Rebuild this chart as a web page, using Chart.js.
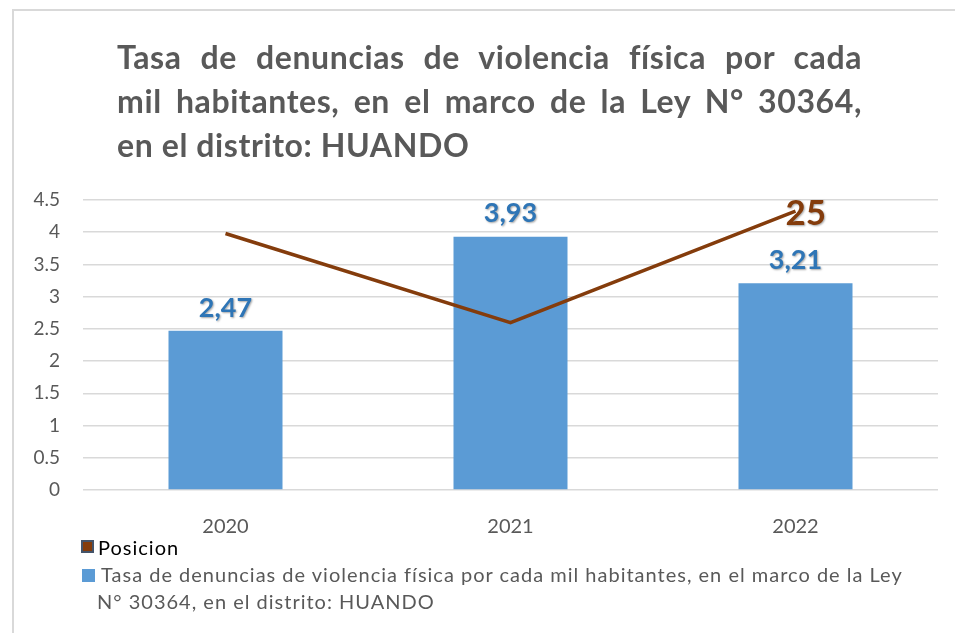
<!DOCTYPE html>
<html>
<head>
<meta charset="utf-8">
<script src="https://cdn.jsdelivr.net/npm/chart.js@4.4.1/dist/chart.umd.min.js"></script>
<style>
  body { margin: 0; background: #fff; font-family: Lato, 'Open Sans', sans-serif; }
  #wrap { position: relative; width: 955px; height: 633px; overflow: hidden; }
  #frame { position: absolute; left: 12px; top: 9px; right: -5px; bottom: -5px;
           border-left: 2px solid #d9d9d9; border-top: 2px solid #d9d9d9; }
  #chart { position: absolute; left: 0; top: 0; }
  #title { position: absolute; left: 117px; top: 35px; width: 745px;
           font-weight: bold; font-size: 32px; letter-spacing: 0.6px; color: #595959; line-height: 44px; }
  #title div { white-space: nowrap; }
  #title .j { text-align: justify; text-align-last: justify; }
  #legend { position: absolute; left: 80px; top: 534px; font-size: 20px; letter-spacing: 1px; color: #595959; }
  #legend .row1 { position: relative; color: #000; line-height: 27px; padding-left: 18px; }
  #legend .row2 { position: relative; line-height: 27px; padding-left: 17px; text-indent: 4px; white-space: nowrap; }
  .mk { position: absolute; width: 13px; height: 13px; box-sizing: border-box; }
</style>
</head>
<body>
<div id="wrap">
  <div id="frame"></div>
  <canvas id="chart" width="955" height="633"></canvas>
  <div id="title">
    <div class="j">Tasa de denuncias de violencia física por cada</div>
    <div class="j">mil habitantes, en el marco de la Ley N° 30364,</div>
    <div>en el distrito: HUANDO</div>
  </div>
  <div id="legend">
    <div class="row1"><span class="mk" style="left:1px;top:6px;background:#843c0c;border:2px solid #44546a;"></span>Posicion</div>
    <div class="row2"><span class="mk" style="left:2px;top:8px;background:#5b9bd5;"></span>Tasa de denuncias de violencia física por cada mil habitantes, en el marco de la Ley<br>N° 30364, en el distrito: HUANDO</div>
  </div>
</div>
<script>
const years = ['2020', '2021', '2022'];
const tasa = [2.47, 3.93, 3.21];
const posicion = [23, 15, 25];
const yTicks = [0, 0.5, 1, 1.5, 2, 2.5, 3, 3.5, 4, 4.5];

// value labels: comma decimals above the bars, last point of the line only
const labelsPlugin = {
  id: 'valueLabels',
  afterDatasetsDraw(chart) {
    const ctx = chart.ctx;
    ctx.save();
    ctx.shadowColor = 'rgba(0,0,0,0.35)';
    ctx.shadowBlur = 2;
    ctx.shadowOffsetX = 1;
    ctx.shadowOffsetY = 1;
    const bars = chart.getDatasetMeta(1).data;
    ctx.font = 'bold 27px Lato';
    ctx.fillStyle = '#2e75b6';
    ctx.textAlign = 'center';
    ctx.textBaseline = 'middle';
    bars.forEach((b, i) => {
      ctx.fillText(tasa[i].toFixed(2).replace('.', ','), b.x, b.y - 23);
    });
    const pts = chart.getDatasetMeta(0).data;
    const last = pts[pts.length - 1];
    ctx.font = 'bold 35px Lato';
    ctx.fillStyle = '#843c0c';
    ctx.textAlign = 'left';
    ctx.fillText(String(posicion[posicion.length - 1]), last.x - 10, last.y + 3);
    ctx.restore();
  }
};

new Chart(document.getElementById('chart'), {
  data: {
    labels: years,
    datasets: [
      {
        type: 'line',
        label: 'Posicion',
        data: posicion,
        yAxisID: 'y2',
        borderColor: '#843c0c',
        borderWidth: 3.5,
        pointRadius: 0,
        tension: 0,
        order: 0
      },
      {
        type: 'bar',
        label: 'Tasa de denuncias de violencia física por cada mil habitantes, en el marco de la Ley N° 30364, en el distrito: HUANDO',
        data: tasa,
        backgroundColor: '#5b9bd5',
        categoryPercentage: 1,
        barPercentage: 0.4,
        order: 1
      }
    ]
  },
  options: {
    responsive: false,
    animation: false,
    layout: { padding: { top: 200, left: 0, right: 17, bottom: 93 } },
    plugins: {
      legend: { display: false },
      title: { display: false },
      tooltip: { enabled: false }
    },
    scales: {
      x: {
        grid: { display: false },
        border: { display: false },
        ticks: { color: '#595959', font: { family: 'Lato', size: 20 }, padding: 17 },
        afterFit(scale) { scale.height = 50; }
      },
      y: {
        min: 0,
        max: 4.5,
        afterBuildTicks(scale) { scale.ticks = yTicks.map(v => ({ value: v })); },
        grid: { color: '#d9d9d9', lineWidth: 1.5, drawTicks: false },
        border: { display: false },
        ticks: {
          color: '#595959',
          font: { family: 'Lato', size: 19 },
          padding: 23,
          callback: v => String(v)
        },
        afterFit(scale) { scale.width = 83; }
      },
      y2: {
        display: false,
        min: 0,
        max: 26
      }
    }
  },
  plugins: [labelsPlugin]
});
</script>
</body>
</html>
